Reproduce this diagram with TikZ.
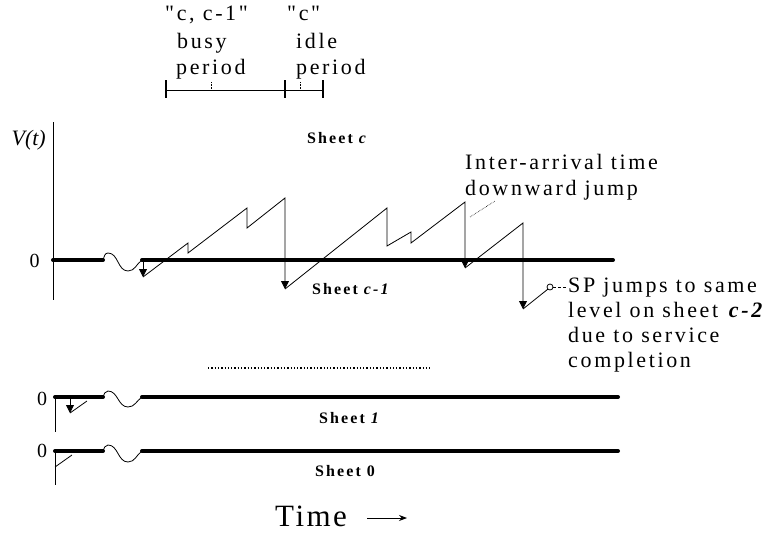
\documentclass[tikz,border=0pt]{standalone}
\usepackage{fontspec}
\setmainfont{Liberation Serif}
\newfontfamily\lsfont[LetterSpace=12]{Liberation Serif}
\newfontfamily\shfont[LetterSpace=13]{Liberation Serif}
\newfontfamily\tmfont[LetterSpace=8]{Liberation Serif}
\usetikzlibrary{arrows.meta}
\begin{document}
\begin{tikzpicture}[x=1pt,y=-1pt,
  lbl/.style={anchor=base west,inner sep=0pt,font=\fontsize{22}{26}\selectfont\lsfont},
  sheetlbl/.style={anchor=base west,inner sep=0pt,font=\fontsize{16}{19}\selectfont\shfont\bfseries},
  zerolbl/.style={inner sep=0pt,font=\fontsize{20}{24}\selectfont},
  thinline/.style={line width=0.8pt},
  thickline/.style={line width=4pt,line cap=round},
  jumpline/.style={line width=0.8pt,-{Triangle[length=8pt,width=8pt]}},
  leader/.style={densely dotted,line width=0.6pt},
]
\useasboundingbox (0,0) rectangle (772,533);

% ---------- top interval ----------
\coordinate (iL) at (166,90);
\coordinate (iM) at (285,90);
\coordinate (iR) at (323,90);
\draw[line width=1pt] (iL) -- (iR);
\draw[line width=2.8pt] (166,80) -- (166,98) (285,80) -- (285,98) (323,80) -- (323,98);
\draw[leader] (211,82) -- (211,89) (300,82) -- (300,89);
\node[lbl] (b1) at (165,20) {"c, c-1"};
\node[lbl] (b2) at (177,48) {busy};
\node[lbl] (b3) at (176,74) {period};
\node[lbl] (i1) at (287,20) {"c"};
\node[lbl] (i2) at (296,48) {idle};
\node[lbl] (i3) at (296,74) {period};

% ---------- axis ----------
\draw[line width=0.9pt] (53,122) -- (53,300);
\node[anchor=base east,inner sep=0pt,font=\fontsize{22}{26}\selectfont\itshape] (vt) at (46,145) {V(t)};
\node[zerolbl] (z2) at (34.5,261) {0};
\node[sheetlbl] (sc) at (307,143) {Sheet \textit{c}};
\node[sheetlbl] (sc1) at (312,294) {Sheet \textit{c-1}};

% sheet c line with break
\draw[thickline] (53,260) -- (103,260);
\draw[thinline] (103,260) to[out=70,in=180] (108,253) to[out=0,in=180] (128,271) to[out=0,in=215] (142,260);
\draw[thickline] (142,260) -- (613,260);

% sample path
\draw[jumpline] (143,260) -- (143,277);
\draw[jumpline] (143,277) -- (188,243) -- (188,253) -- (247,208) -- (247,228) -- (285,198) -- (285,289);
\draw[jumpline] (285,289) -- (387,208) -- (387,246) -- (411,232) -- (411,243) -- (465,202) -- (465,268);
\draw[jumpline] (465,268) -- (523,223) -- (523,309);
\coordinate (circ) at (550,287);
\draw[thinline] (523,309) -- (547.8,289.2);
\draw[thinline] (circ) circle[radius=3pt];

% annotations
\node[lbl] (ia1) at (465,169) {Inter-arrival time};
\node[lbl] (ia2) at (465,195) {downward jump};
\coordinate (la) at (470,217);
\coordinate (lb) at (495,201);
\draw[leader] (la) -- (lb);

\node[lbl] (sp1) at (568,292) {SP jumps to same};
\node[lbl] (sp2) at (568,317) {level on sheet \textbf{\textit{c-2}}};
\node[lbl] (sp3) at (568,342) {due to service};
\node[lbl] (sp4) at (568,367) {completion};
\draw[densely dashed,line width=0.5pt] (553,287) -- (566,287);

% dotted separator
\draw[dotted,line width=1.3pt] (208,368) -- (432,368);

% ---------- sheet 1 ----------
\node[zerolbl] (z1) at (42,399) {0};
\draw[thinline] (55,397) -- (55,432);
\draw[thickline] (55,397) -- (103,397);
\draw[thinline] (103,397) to[out=70,in=180] (108,391) to[out=0,in=180] (128,407) to[out=0,in=215] (142,397);
\draw[thickline] (142,397) -- (618,397);
\draw[jumpline] (70,397) -- (70,413);
\draw[thinline] (70,413) -- (87,401);
\node[sheetlbl] (s1) at (319,423) {Sheet \textit{1}};

% ---------- sheet 0 ----------
\node[zerolbl] (z0) at (42,451) {0};
\draw[thinline] (55,451) -- (55,485);
\draw[thickline] (55,451) -- (103,451);
\draw[thinline] (103,451) to[out=70,in=180] (108,445) to[out=0,in=180] (128,462) to[out=0,in=215] (142,451);
\draw[thickline] (142,451) -- (618,451);
\draw[thinline] (55,467) -- (72,455);
\node[sheetlbl] (s0) at (315,476) {Sheet 0};

% ---------- time ----------
\node[anchor=base west,inner sep=0pt,font=\fontsize{31}{36}\selectfont\tmfont] (time) at (275,526) {Time};
\coordinate (ta) at (367,518);
\coordinate (tb) at (407,518);
\draw[line width=0.8pt,-{Stealth[length=8pt,width=6pt]}] (ta) -- (tb);
\end{tikzpicture}
\end{document}
